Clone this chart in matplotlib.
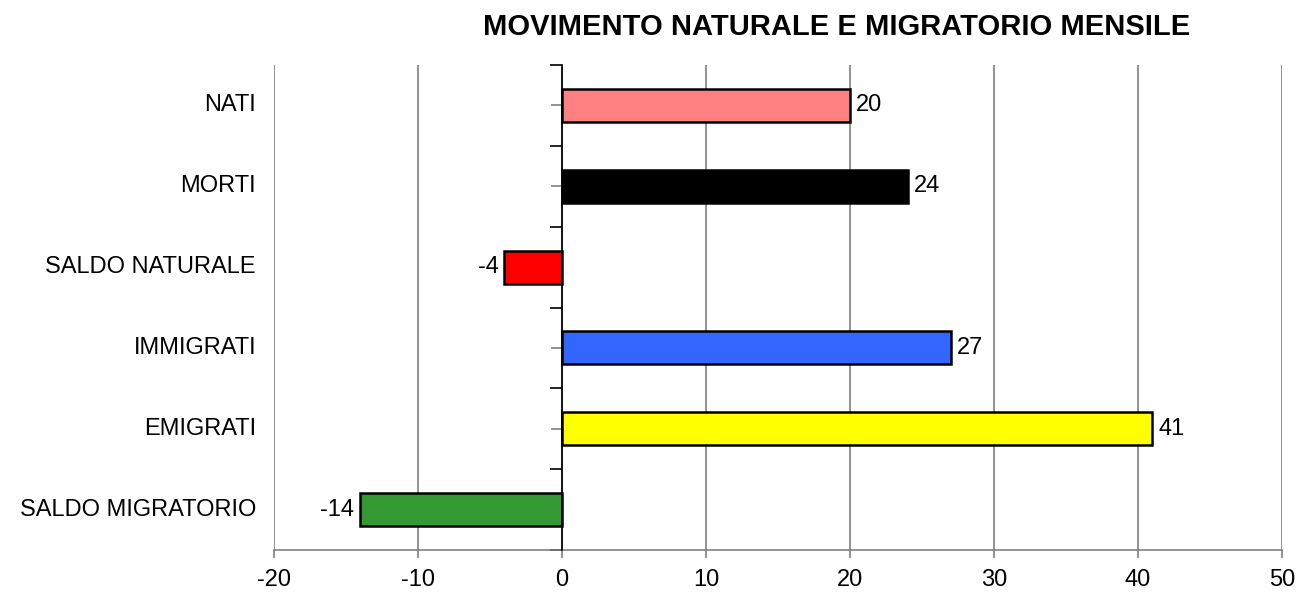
import matplotlib
matplotlib.use("Agg")
import matplotlib.pyplot as plt
import matplotlib.transforms as mtransforms
import numpy as np

categories = ["NATI", "MORTI", "SALDO NATURALE", "IMMIGRATI", "EMIGRATI", "SALDO MIGRATORIO"]
values = [20, 24, -4, 27, 41, -14]
colors = ["#FF8080", "#000000", "#FF0000", "#3366FF", "#FFFF00", "#339933"]
xticks = [-20, -10, 0, 10, 20, 30, 40, 50]
title = "MOVIMENTO NATURALE E MIGRATORIO MENSILE"

plt.rcParams['font.family'] = ['Liberation Sans', 'DejaVu Sans']
FS = 17

fig = plt.figure(figsize=(12.97, 5.95), dpi=100)
ax = fig.add_axes([274/1297, 1-550/595, (1282-274)/1297, (550-65)/595])

y = np.arange(len(categories))
ax.barh(y, values, height=0.41, color=colors, edgecolor="black", linewidth=1.8, zorder=3)
ax.set_ylim(len(categories)-0.5, -0.5)
ax.set_xlim(xticks[0], xticks[-1])

ax.set_xticks(xticks)
ax.set_xticklabels([str(t) for t in xticks], fontsize=FS)
ax.xaxis.grid(True, color="#808080", linewidth=1.2, zorder=0)
ax.tick_params(axis="x", direction="out", length=6, color="#808080", width=1.2, pad=8)

for s in ["top", "right"]:
    ax.spines[s].set_visible(False)
ax.spines["bottom"].set_color("#808080")
ax.spines["bottom"].set_linewidth(1.2)
ax.spines["left"].set_position(("data", 0))
ax.spines["left"].set_color("black")
ax.spines["left"].set_linewidth(1.2)
ax.spines["left"].set_zorder(4)

ax.set_yticks(np.arange(-0.5, len(categories), 1.0))
ax.set_yticklabels([])
ax.set_yticks(y, minor=True)
ax.tick_params(axis="y", which="major", direction="out", length=9, color="black", width=1.2)
ax.tick_params(axis="y", which="minor", direction="out", length=8, color="#808080", width=1.2, labelleft=False)

trans = mtransforms.blended_transform_factory(ax.transAxes, ax.transData)
for yi, c in zip(y, categories):
    ax.text(-18/1008, yi, c, transform=trans, ha="right", va="center", fontsize=FS)

for yi, v in zip(y, values):
    if v >= 0:
        t = mtransforms.offset_copy(ax.transData, fig=fig, x=6, y=0, units="dots")
        ax.text(v, yi, str(v), transform=t, ha="left", va="center", fontsize=FS)
    else:
        t = mtransforms.offset_copy(ax.transData, fig=fig, x=-6, y=0, units="dots")
        ax.text(v, yi, str(v), transform=t, ha="right", va="center", fontsize=FS)

fig.text(837/1297, 1-27/595, title, ha="center", va="center", fontsize=21, fontweight="bold")

fig.savefig("out.png", dpi=100)
